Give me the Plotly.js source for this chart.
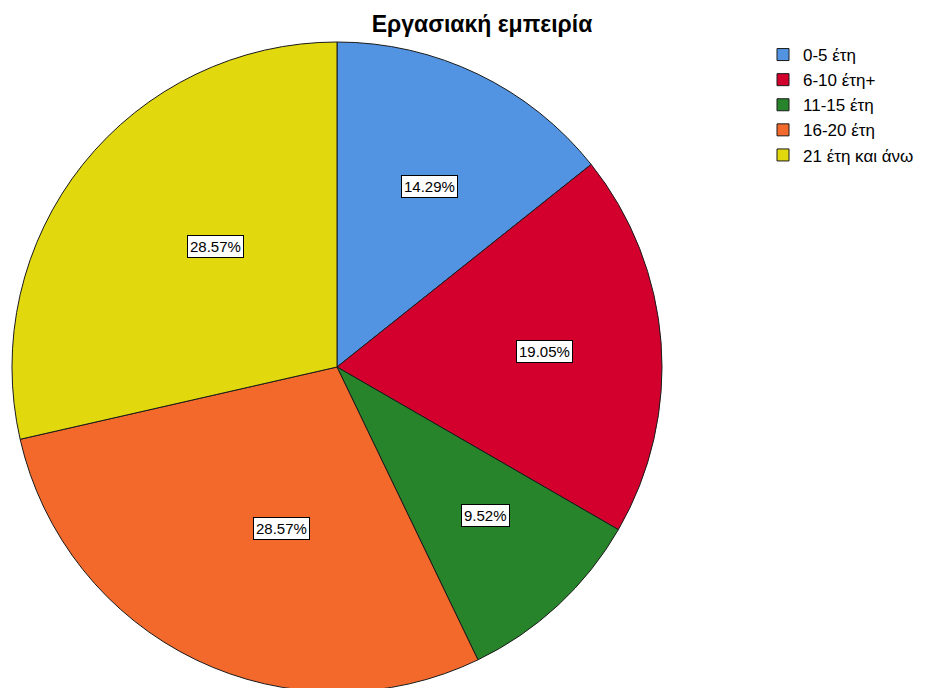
<!DOCTYPE html>
<html><head><meta charset="utf-8">
<script src="https://cdn.plot.ly/plotly-3.0.1.min.js"></script>
<style>html,body{margin:0;padding:0;overflow:hidden;background:#fff;}#chart{width:926px;height:692px;}</style>
</head><body><div id="chart"></div>
<script>
const categories = ["0-5 έτη", "6-10 έτη+", "11-15 έτη", "16-20 έτη", "21 έτη και άνω"];
const percents = [14.29, 19.05, 9.52, 28.57, 28.57];
const colors = ["#5294E2", "#D3002E", "#28842A", "#F2692B", "#E2D80E"];
const chartTitle = "Εργασιακή εμπειρία";

const W = 926, H = 692;
const cx = 337, cy = 367, R = 325;
const dom = {x: [(cx - R) / W, (cx + R) / W], y: [(H - cy - R) / H, (H - cy + R) / H]};

const total = percents.reduce((a, b) => a + b, 0);
let cum = 0;
const annotations = percents.map((v) => {
  const half = Math.PI * v / total;           // half angle of slice
  const mid = 2 * Math.PI * cum / total + half; // angle from 12 o'clock, clockwise
  cum += v;
  const rc = 1.02 * 2 * Math.sin(half) / (3 * half);  // near sector centroid (fraction of R)
  const px = cx + R * rc * Math.sin(mid);
  const py = cy - R * rc * Math.cos(mid);
  return {
    x: px / W, y: 1 - py / H, xref: "paper", yref: "paper",
    text: v.toFixed(2) + "%", showarrow: false,
    bgcolor: "#ffffff", bordercolor: "#000000", borderwidth: 1, borderpad: 2,
    font: {family: "Liberation Sans, Arial", size: 15, color: "#000"}
  };
});

const trace = {
  type: "pie",
  labels: categories,
  values: percents,
  sort: false,
  direction: "clockwise",
  rotation: 0,
  textinfo: "none",
  hoverinfo: "label+percent",
  marker: {colors: colors, line: {color: "#1a1a1a", width: 1}},
  domain: dom
};

const layout = {
  width: W, height: H,
  margin: {l: 0, r: 0, t: 0, b: 0},
  paper_bgcolor: "#fff",
  font: {family: "Liberation Sans, Arial", color: "#000"},
  title: {text: chartTitle, x: 482 / W, xref: "paper", xanchor: "center", y: 1 - 24 / H, yanchor: "middle",
          font: {family: "Liberation Sans, Arial", size: 23, color: "#000", weight: "bold"}},
  showlegend: true,
  legend: {x: 763 / W, y: 1 - 37 / H, xanchor: "left", yanchor: "top",
           font: {family: "Liberation Sans, Arial", size: 17, color: "#000"},
           bgcolor: "rgba(0,0,0,0)", traceorder: "normal"},
  annotations: annotations
};

Plotly.newPlot("chart", [trace], layout, {displayModeBar: false, staticPlot: true});
</script></body></html>
